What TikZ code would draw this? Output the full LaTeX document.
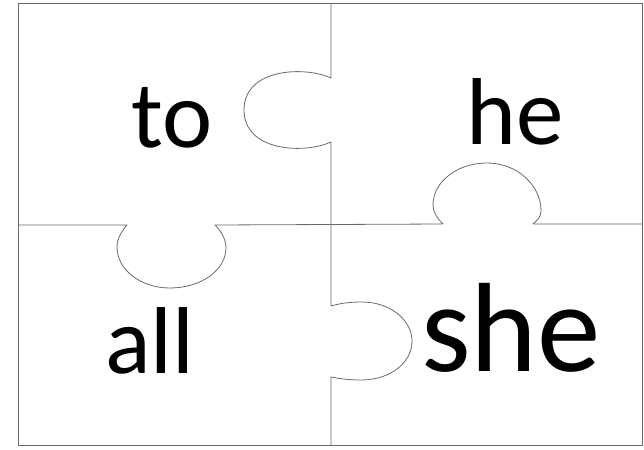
\documentclass[tikz,border=0pt]{standalone}
\usepackage{fontspec}
\usepackage{tikz}
\newfontfamily\wordfont{Carlito}
\definecolor{cutline}{HTML}{6A6A6A}
\definecolor{ink}{HTML}{000000}
\tikzset{
  cut/.style={draw=cutline,line width=0.8pt,line join=round},
  frame/.style={cut,line width=1pt},
  word/.style={anchor=base,inner sep=0pt,text=ink,font=\wordfont\fontsize{95}{95}\selectfont},
  bigword/.style={word,font=\wordfont\fontsize{127}{127}\selectfont}
}
\begin{document}
\begin{tikzpicture}[x=1pt,y=-1pt]
  \useasboundingbox (0,0) rectangle (644,449);
  % outer edge of the four pieces
  \draw[frame] (18.5,4) rectangle (642,445);
  \coordinate (vtop) at (331,4);
  \coordinate (vbot) at (331,445);
  \coordinate (hleft) at (18.5,225);
  \coordinate (hright) at (642,224);
  % vertical cut with its two tabs
  \draw[cut] (vtop) -- (331,78)
    .. controls (305,66) and (244,68) .. (244,110)
    .. controls (244,152) and (305,154) .. (331,142)
    -- (331,306)
    .. controls (341,303) and (351,302) .. (362,302)
    .. controls (390,302) and (412,320) .. (412,341)
    .. controls (412,363) and (390,380) .. (361,380)
    .. controls (351,380) and (341,379) .. (331,377)
    -- (vbot);
  % horizontal cut with its two tabs
  \draw[cut] (hleft) -- (127,225)
    .. controls (121,232) and (117,239) .. (117,247)
    .. controls (117,270) and (141,288) .. (170,288)
    .. controls (201,288) and (226,270) .. (226,248)
    .. controls (226,239) and (221,231) .. (215,225)
    -- (331,224.5) -- (443,224)
    .. controls (437,218) and (433,212) .. (433,205)
    .. controls (433,182) and (457,163) .. (487,163)
    .. controls (517,163) and (541,185) .. (541,211)
    .. controls (541,216) and (538,220) .. (533,224)
    -- (hright);
  % words on the pieces
  \node[word] (to) at (172,147) {to};
  \node[word] (he) at (515,145) {he};
  \node[word] (all) at (150,373) {all};
  \node[bigword] (she) at (511,371) {she};
\end{tikzpicture}
\end{document}
